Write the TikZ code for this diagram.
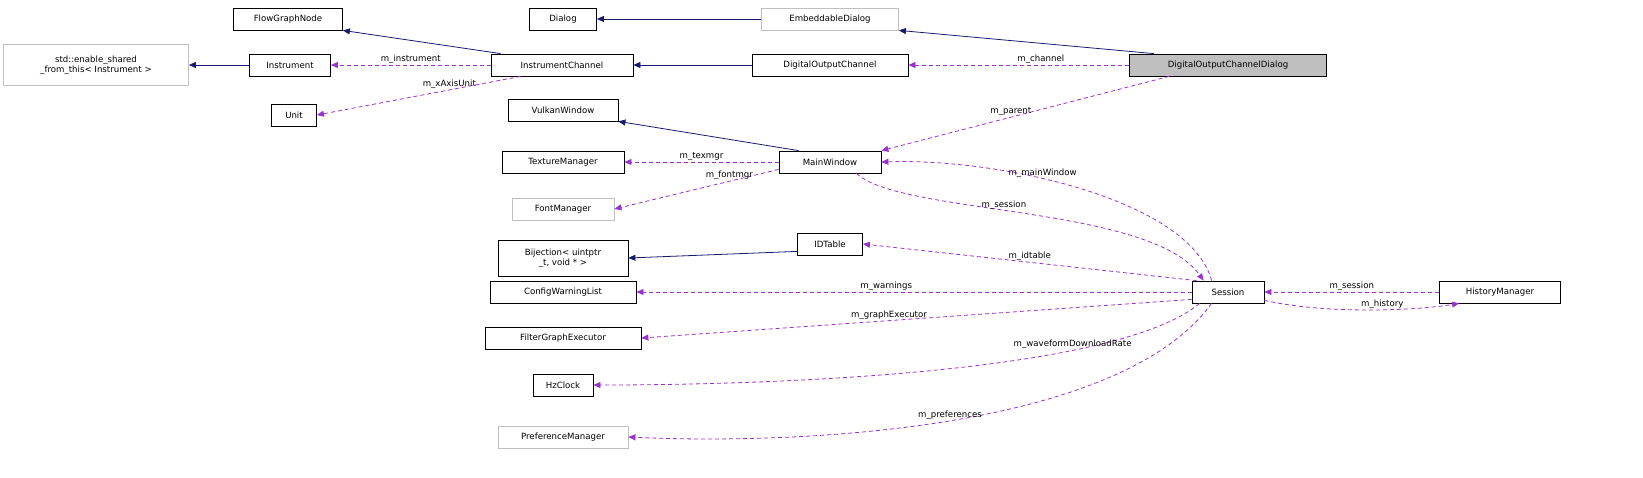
\documentclass[tikz,border=0pt]{standalone}
\usepackage{fontspec}
\setmainfont{DejaVu Sans}
\usetikzlibrary{arrows.meta}
\definecolor{inhc}{HTML}{191970}
\definecolor{usec}{HTML}{9A32CD}
\definecolor{grayb}{HTML}{BFBFBF}
\begin{document}
\begin{tikzpicture}[x=1pt,y=-1pt,
  every node/.style={font=\fontsize{8.6}{10}\selectfont},
  box/.style={draw=black,fill=white,inner sep=0pt,minimum height=22pt,align=center,line width=0.8pt},
  gbox/.style={box,draw=grayb},
  inh/.style={draw=inhc,line width=0.8pt,-{Triangle[length=7pt,width=6pt]}},
  use/.style={draw=usec,line width=0.8pt,dash pattern=on 4pt off 3pt,-{Triangle[length=7pt,width=6pt]}},
  lab/.style={inner sep=1pt}]
\useasboundingbox (0,0) rectangle (1643,477);
\node[box,minimum width=109pt] (fgn) at (288,19) {FlowGraphNode};
\node[box,minimum width=67pt] (dlg) at (563,19) {Dialog};
\node[gbox,minimum width=137pt] (emb) at (830,19) {EmbeddableDialog};
\node[gbox,minimum width=185pt,minimum height=41pt] (esf) at (96,65) {std::enable\_shared\\\_from\_this< Instrument >};
\node[box,minimum width=81pt] (ins) at (290,65) {Instrument};
\node[box,minimum width=142pt] (ich) at (562,65) {InstrumentChannel};
\node[box,minimum width=156pt] (doc) at (830,65) {DigitalOutputChannel};
\node[box,fill=grayb,minimum width=197pt] (docd) at (1228,65) {DigitalOutputChannelDialog};
\node[box,minimum width=45pt] (unit) at (294,115) {Unit};
\node[box,minimum width=110pt] (vw) at (563,110) {VulkanWindow};
\node[box,minimum width=122pt] (tm) at (563,162) {TextureManager};
\node[box,minimum width=102pt] (mw) at (830,162) {MainWindow};
\node[gbox,minimum width=102pt] (fm) at (563,209) {FontManager};
\node[box,minimum width=65pt] (idt) at (830,244) {IDTable};
\node[box,minimum width=130pt,minimum height=36pt] (bij) at (563,258) {Bijection< uintptr\\\_t, void * >};
\node[box,minimum width=146pt] (cwl) at (563,292) {ConfigWarningList};
\node[box,minimum width=72pt] (ses) at (1228,292) {Session};
\node[box,minimum width=121pt] (hm) at (1500,292) {HistoryManager};
\node[box,minimum width=156pt] (fge) at (563,338) {FilterGraphExecutor};
\node[box,minimum width=60pt] (hz) at (563,385) {HzClock};
\node[gbox,minimum width=130pt] (pm) at (563,437) {PreferenceManager};

\draw[inh] ([xshift=10pt]ich.north west) -- (fgn.south east);
\draw[inh] (emb.west) -- (dlg.east);
\draw[inh] ([xshift=25pt]docd.north west) -- (emb.south east);
\draw[inh] (ins.west) -- (esf.east);
\draw[inh] (doc.west) -- (ich.east);
\draw[inh] ([xshift=20pt]mw.north west) -- (vw.south east);
\draw[inh] ([yshift=4pt]idt.south west) -- (bij.east);

\draw[use] (ich.west) -- node[lab,above] {m\_instrument} (ins.east);
\draw[use] ([xshift=30pt]ich.south west) -- node[lab,above,pos=0.35] {m\_xAxisUnit} (unit.east);
\draw[use] (docd.west) -- node[lab,above,pos=0.4] {m\_channel} (doc.east);
\draw[use] ([xshift=40pt]docd.south west) -- node[lab,above,pos=0.55] {m\_parent} (mw.north east);
\draw[use] (mw.west) -- node[lab,above] {m\_texmgr} (tm.east);
\draw[use] ([yshift=4pt]mw.south west) -- node[lab,above,pos=0.3] {m\_fontmgr} (fm.east);
\draw[use] ([xshift=20pt]ses.north west) .. controls (1190,200) and (1000,158) .. node[lab,pos=0.6,above] {m\_mainWindow} (mw.east);
\draw[use] ([xshift=-25pt]mw.south east) .. controls (900,215) and (1150,205) .. node[lab,pos=0.45,above] {m\_session} ([xshift=12pt]ses.north west);
\draw[use] ([xshift=5pt]ses.north west) -- node[lab,above,pos=0.5] {m\_idtable} (idt.east);
\draw[use] (ses.west) -- node[lab,above,pos=0.55] {m\_warnings} (cwl.east);
\draw[use] ([yshift=4pt]ses.south west) -- node[lab,above,pos=0.55] {m\_graphExecutor} (fge.east);
\draw[use] ([xshift=8pt]ses.south west) .. controls (1120,370) and (800,385) .. node[lab,above,pos=0.3] {m\_waveformDownloadRate} (hz.east);
\draw[use] ([xshift=20pt]ses.south west) .. controls (1120,430) and (800,445) .. node[lab,above,pos=0.5] {m\_preferences} (pm.east);
\draw[use] (hm.west) -- node[lab,above] {m\_session} (ses.east);
\draw[use] ([yshift=3pt]ses.south east) .. controls (1330,315) and (1420,310) .. node[lab,above,pos=0.55] {m\_history} ([xshift=20pt]hm.south west);
\end{tikzpicture}
\end{document}
